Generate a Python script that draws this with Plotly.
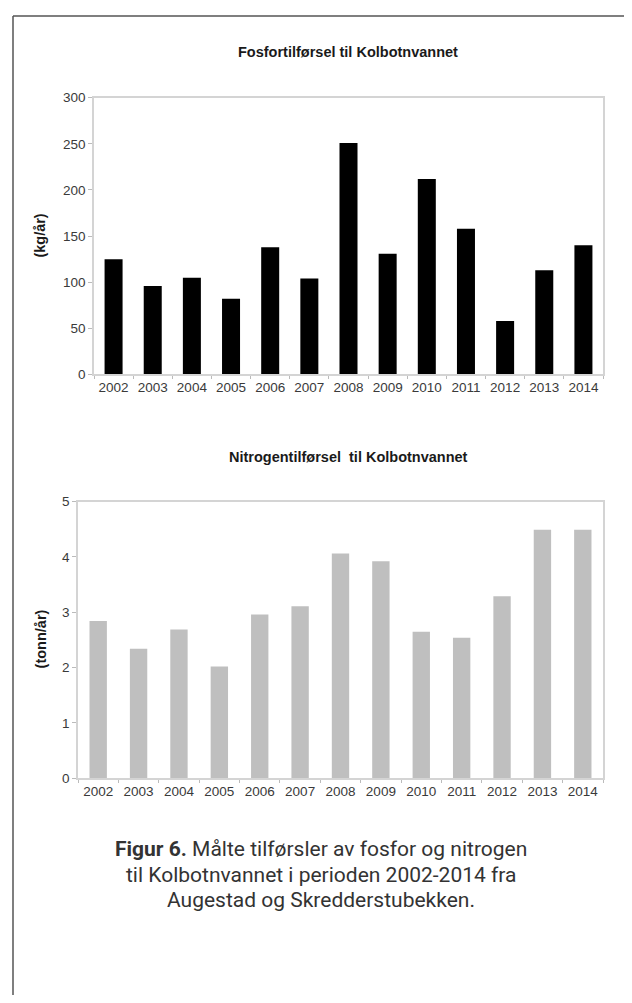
import plotly.graph_objects as go

years = ["2002", "2003", "2004", "2005", "2006", "2007", "2008",
         "2009", "2010", "2011", "2012", "2013", "2014"]
fosfor_kg = [125, 96, 105, 82, 138, 104, 251, 131, 212, 158, 58, 113, 140]
nitrogen_tonn = [2.84, 2.34, 2.69, 2.02, 2.96, 3.11, 4.06, 3.92, 2.65, 2.54, 3.29, 4.49, 4.49]

title_top = "Fosfortilførsel til Kolbotnvannet"
title_bottom = "Nitrogentilførsel  til Kolbotnvannet"
ylabel_top = "(kg/år)"
ylabel_bottom = "(tonn/år)"
caption_lines = [
    "<b>Figur 6.</b> Målte tilførsler av fosfor og nitrogen",
    "til Kolbotnvannet i perioden 2002-2014 fra",
    "Augestad og Skredderstubekken.",
]

# page body has an 8px default margin; figure fills the rest of the window
OFF = 8
W, H = 632 - OFF, 1003 - OFF
def px(x):
    return (x - OFF) / W
def py(y):
    return 1 - (y - OFF) / H

fig = go.Figure()
fig.add_trace(go.Bar(x=years, y=fosfor_kg, marker=dict(color="#000000", line=dict(width=0)),
                     width=0.46, xaxis="x", yaxis="y", showlegend=False))
fig.add_trace(go.Bar(x=years, y=nitrogen_tonn, marker=dict(color="#bfbfbf", line=dict(width=0)),
                     width=0.43, xaxis="x2", yaxis="y2", showlegend=False))

tickfont = dict(family="Liberation Sans, Arial", size=13.5, color="#3a3a3a")
axcol = "#d4d4d4"
common_x = dict(type="category", showline=True, linecolor=axcol, linewidth=1.5, mirror=True,
                ticks="outside", tickson="boundaries", ticklen=3, tickcolor="#bbbbbb",
                tickfont=tickfont, tickangle=0, showgrid=False, zeroline=False, fixedrange=True)
common_y = dict(showline=True, linecolor=axcol, linewidth=1.5, mirror=True,
                ticks="outside", ticklen=4, tickcolor="#bbbbbb", tickfont=tickfont,
                showgrid=False, zeroline=False, fixedrange=True)

frame = dict(color="#555555", width=1.5)
fig.update_layout(
    width=W, height=H,
    margin=dict(l=0, r=0, t=0, b=0),
    paper_bgcolor="white", plot_bgcolor="white",
    xaxis=dict(domain=[px(94), px(603)], anchor="y", **common_x),
    yaxis=dict(domain=[py(373), py(92)], anchor="x", range=[0, 300], dtick=50, **common_y),
    xaxis2=dict(domain=[px(78), px(603)], anchor="y2", **common_x),
    yaxis2=dict(domain=[py(783), py(502)], anchor="x2", range=[0, 5], dtick=1, **common_y),
    shapes=[
        dict(type="line", xref="paper", yref="paper", x0=px(13), x1=px(13), y0=0, y1=py(9), line=frame),
        dict(type="line", xref="paper", yref="paper", x0=px(628), x1=px(628), y0=0, y1=py(9), line=frame),
        dict(type="line", xref="paper", yref="paper", x0=px(13), x1=px(628), y0=py(9), y1=py(9), line=frame),
    ],
)

titlefont = dict(family="Liberation Sans, Arial", size=14.5, color="#1a1a1a")
ann = [
    dict(text="<b>" + title_top + "</b>", x=px(348.5), y=py(46), font=titlefont),
    dict(text="<b>" + title_bottom + "</b>", x=px(348.5), y=py(457), font=titlefont),
    dict(text="<b>" + ylabel_top + "</b>", x=px(40), y=py(232), textangle=-90, font=titlefont),
    dict(text="<b>" + ylabel_bottom + "</b>", x=px(41), y=py(642), textangle=-90, font=titlefont),
]
capfont = dict(family="Roboto", size=21, color="#333333")
for line, yc in zip(caption_lines, [855, 881, 907]):
    ann.append(dict(text=line, x=px(321), y=py(yc), font=capfont))
for a in ann:
    a.update(xref="paper", yref="paper", showarrow=False, xanchor="center", yanchor="middle")
fig.update_layout(annotations=ann)

fig.write_html("out.html")
